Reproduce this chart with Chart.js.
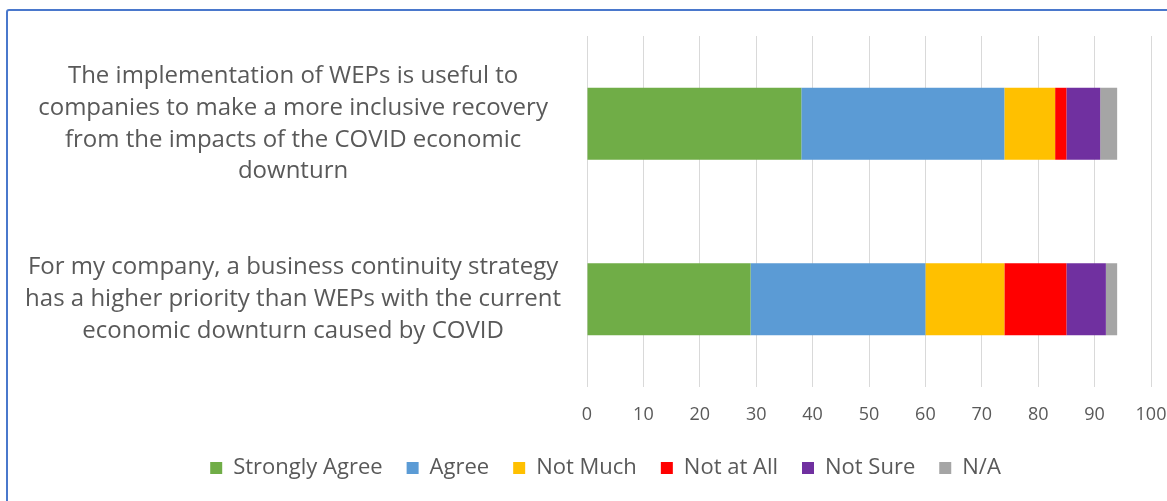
<!DOCTYPE html>
<html>
<head>
<meta charset="utf-8">
<script src="https://cdn.jsdelivr.net/npm/chart.js@4"></script>
<style>
  html, body { margin: 0; padding: 0; background: #fff; overflow: hidden; }
  #frame {
    position: absolute; left: 6px; top: 9px;
    width: 1300px; height: 600px;
    border: 2px solid #4a78cc;
    border-radius: 3px;
  }
  #wrap { position: absolute; left: 0; top: 0; width: 1167px; height: 501px; }
</style>
</head>
<body>
<div id="frame"></div>
<div id="wrap"><canvas id="chart"></canvas></div>
<script>
// --------------------------------
// Data
// --------------------------------

const statements = [
    ['The implementation of WEPs is useful to', 'companies to make a more inclusive recovery', 'from the impacts of the COVID economic', 'downturn'],
    ['For my company, a business continuity strategy', 'has a higher priority than WEPs with the current', 'economic downturn caused by COVID']
];

const stronglyAgree = [38, 29];
const agree = [36, 31];
const notMuch = [9, 14];
const notAtAll = [2, 11];
const notSure = [6, 7];
const notApplicable = [3, 2];

const xTicks = [0, 10, 20, 30, 40, 50, 60, 70, 80, 90, 100];

const textColor = '#595959';
const fontFamily = '"Open Sans", "Liberation Sans", sans-serif';

// --------------------------------
// Chart
// --------------------------------

const ctx = document.getElementById('chart');

function series(label, data, color) {
    return {
        label: label,
        data: data,
        backgroundColor: color,
        borderWidth: 0,
        categoryPercentage: 1,
        barPercentage: 0.41
    };
}

// left padding only pushes the legend to the right; the long category
// labels still need the full width, so widen the y scale box again
const widenLabels = {
    id: 'widenLabels',
    afterLayout(chart) {
        chart.scales.y.left = 0;
    }
};

const stackChart = new Chart(ctx, {
    type: 'bar',
    data: {
        labels: statements,
        datasets: [
            series('Strongly Agree', stronglyAgree, '#70ad47'),
            series('Agree', agree, '#5b9bd5'),
            series('Not Much', notMuch, '#ffc000'),
            series('Not at All', notAtAll, '#ff0000'),
            series('Not Sure', notSure, '#7030a0'),
            series('N/A', notApplicable, '#a5a5a5')
        ]
    },
    plugins: [widenLabels],
    options: {
        indexAxis: 'y',
        responsive: true,
        maintainAspectRatio: false,
        animation: false,
        layout: {
            padding: { top: 36, right: 16, bottom: 12, left: 60 }
        },
        plugins: {
            tooltip: { enabled: false },
            legend: {
                position: 'bottom',
                labels: {
                    color: textColor,
                    font: { family: fontFamily, size: 22 },
                    boxWidth: 12,
                    boxHeight: 12,
                    padding: 24
                }
            }
        },
        scales: {
            x: {
                stacked: true,
                min: 0,
                max: 100,
                afterBuildTicks: scale => {
                    scale.ticks = xTicks.map(v => ({ value: v }));
                },
                afterFit: scale => {
                    scale.paddingRight = 0;
                    scale.paddingLeft = 0;
                    scale.height = 46;
                },
                grid: {
                    color: '#d9d9d9',
                    lineWidth: 1,
                    drawTicks: false
                },
                border: { display: false },
                ticks: {
                    color: textColor,
                    font: { family: fontFamily, size: 18 },
                    padding: 17,
                    maxRotation: 0
                }
            },
            y: {
                stacked: true,
                grid: { display: false, drawTicks: false },
                border: { display: false },
                afterFit: scale => {
                    scale.width = 527;
                    scale.paddingTop = 0;
                    scale.paddingBottom = 0;
                },
                ticks: {
                    color: textColor,
                    font: { family: fontFamily, size: 24, lineHeight: 1.33 },
                    crossAlign: 'center',
                    padding: 26
                }
            }
        }
    }
});
</script>
</body>
</html>
